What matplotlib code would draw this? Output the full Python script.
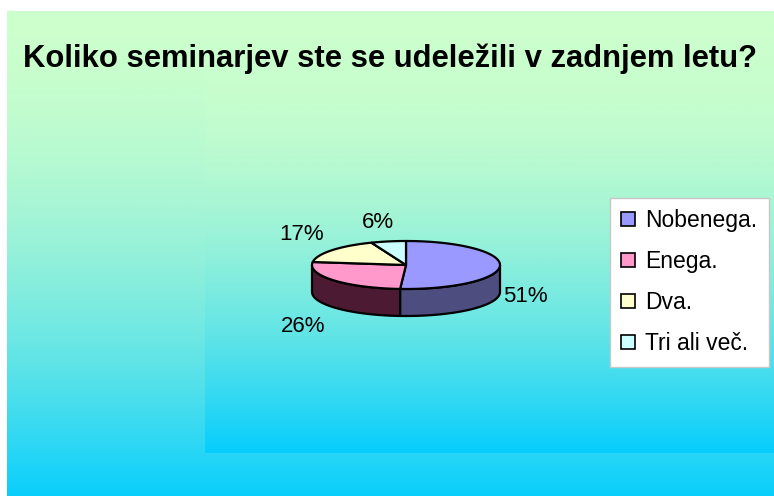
import numpy as np
import matplotlib.pyplot as plt
from matplotlib.patches import Polygon, Patch
from matplotlib.colors import LinearSegmentedColormap

plt.rcParams['font.family'] = ['Liberation Sans', 'DejaVu Sans']

title = 'Koliko seminarjev ste se udeležili v zadnjem letu?'
labels = ['Nobenega.', 'Enega.', 'Dva.', 'Tri ali več.']
shares = [51, 26, 17, 6]
top_colors = ['#9999ff', '#ff99cc', '#ffffcc', '#ccffff']
side_colors = ['#4d4d80', '#4d1a33', '#80806a', '#6a8080']

W, H = 774, 496
fig = plt.figure(figsize=(W / 100, H / 100), dpi=100)
ax = fig.add_axes([0, 0, 1, 1])

# background gradients (pale green -> cyan), greener towards the top
grad = LinearSegmentedColormap.from_list('bg', ['#ccffcc', '#00ccff'])
u = np.linspace(0, 1, 256).reshape(-1, 1)
ax.imshow(0.95 * u ** 1.8, cmap=grad, vmin=0, vmax=1, aspect='auto',
          extent=[7, W, H, 11], zorder=0)
ax.imshow(0.02 + 0.95 * u ** 1.7, cmap=grad, vmin=0, vmax=1, aspect='auto',
          extent=[205, W, 453, 70], zorder=1)
ax.set_xlim(0, W)
ax.set_ylim(H, 0)
ax.axis('off')

# 3d pie geometry
cx, cy, rx, ry, depth = 406, 265, 94, 24, 27


def arc(a0, a1, dy=0, n=60):
    t = np.radians(np.linspace(a0, a1, n))
    return np.column_stack([cx + rx * np.cos(t), cy - ry * np.sin(t) + dy])


fr = np.array(shares) / sum(shares)
ends = 90 - np.cumsum(fr) * 360
starts = np.concatenate([[90], ends[:-1]])

# side walls (front half only)
for i in range(len(shares)):
    a0 = min(starts[i], 0)
    a1 = max(ends[i], -180)
    if a0 > a1:
        pts = np.vstack([arc(a0, a1), arc(a1, a0, depth)])
        ax.add_patch(Polygon(pts, closed=True, fc=side_colors[i], ec='black',
                             lw=1.6, joinstyle='round', zorder=3))

# tops
for i in range(len(shares)):
    pts = np.vstack([[cx, cy], arc(starts[i], ends[i])])
    ax.add_patch(Polygon(pts, closed=True, fc=top_colors[i], ec='black',
                         lw=1.6, joinstyle='round', zorder=4))

# percentage labels
for i in range(len(shares)):
    mid = np.radians((starts[i] + ends[i]) / 2)
    c, s = np.cos(mid), np.sin(mid)
    y = cy - 50 * s + (depth + 3 if s < 0 else 0)
    if c > 0.3:
        ha, x = 'left', cx + 97 * c
    elif c < -0.3:
        ha, x = 'right', cx + 104 * c
    else:
        ha, x = 'center', cx + 150 * c
        y += 7
    ax.text(x, y, '%d%%' % shares[i], fontsize=16, ha=ha, va='center', zorder=5)

ax.text(390, 59, title, fontsize=22.3, fontweight='bold', ha='center',
        va='center', zorder=5)

handles = [Patch(fc=top_colors[i], ec='black', lw=1.2) for i in range(len(labels))]
leg = ax.legend(handles, labels, loc='upper left', bbox_to_anchor=(610, 198),
                bbox_transform=ax.transData, borderaxespad=0, fontsize=16.5,
                frameon=True, fancybox=False, framealpha=1, edgecolor='#c8c8c8',
                borderpad=0.5, labelspacing=0.78, handlelength=0.58,
                handleheight=0.58, handletextpad=0.45)
leg.get_frame().set_linewidth(1)
leg.set_zorder(6)

fig.savefig('out.png', dpi=100)
